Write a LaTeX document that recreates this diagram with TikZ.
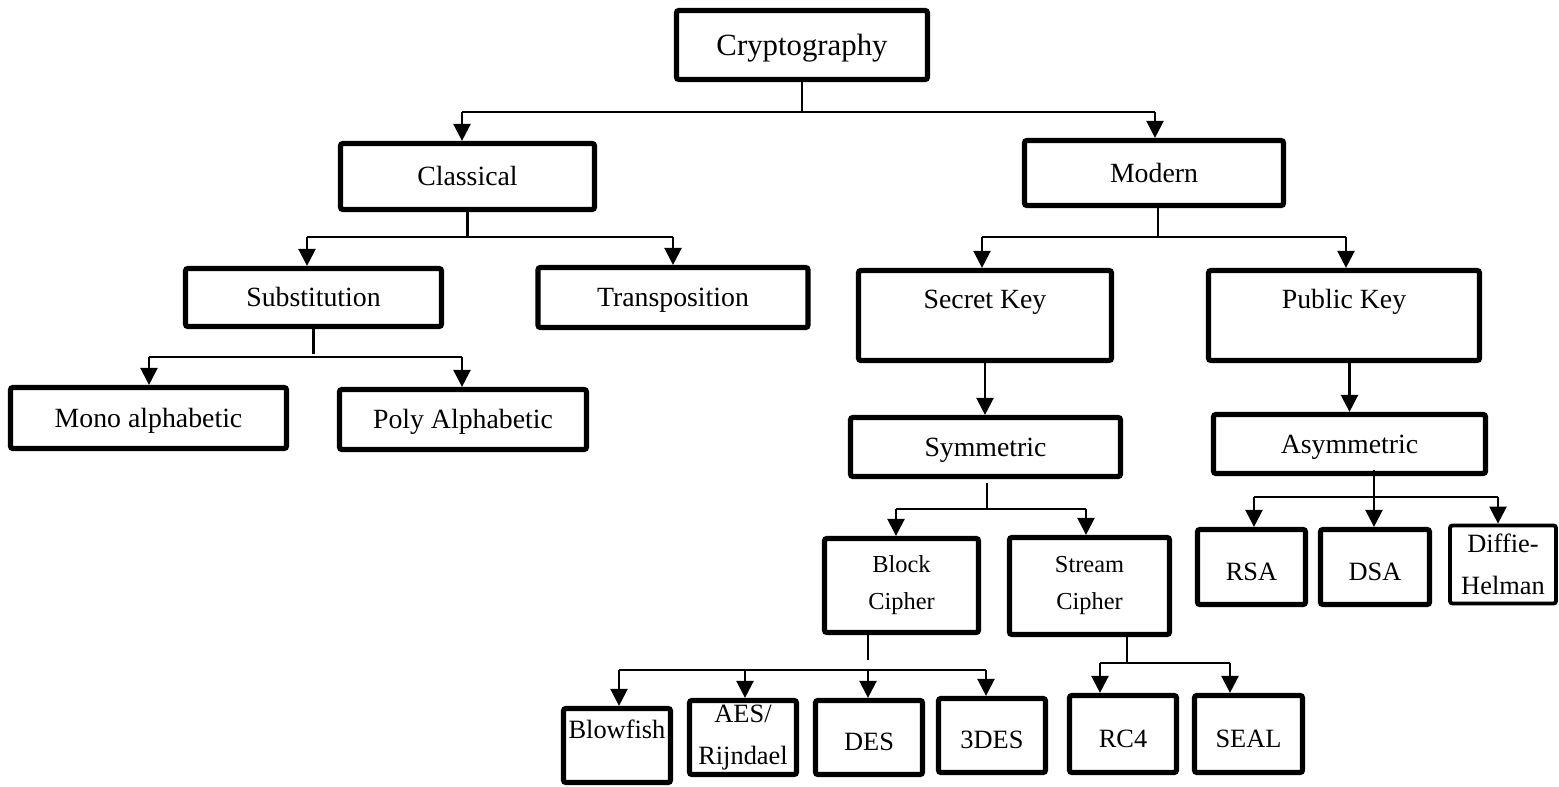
\documentclass[tikz,border=0pt]{standalone}
\usepackage{fontspec}
\setmainfont{Liberation Serif}
\usetikzlibrary{arrows.meta}

\tikzset{
  x=0.5pt, y=-0.5pt,
  frame/.style={draw, line width=2.6pt, rounded corners=1.2pt, inner sep=0pt, align=center},
  box/.style={frame, font=\fontsize{13.9pt}{16pt}\selectfont, text height=9pt, text depth=0pt},
  topbox/.style={box, font=\fontsize{15.4pt}{18pt}\selectfont, text height=10pt},
  leaf/.style={frame, font=\fontsize{13.2pt}{16pt}\selectfont, text height=13pt, text depth=0pt},
  twoline/.style={frame, font=\fontsize{12.2pt}{18.5pt}\selectfont},
  twoleaf/.style={frame, font=\fontsize{13.2pt}{21pt}\selectfont},
  wire/.style={line width=1.2pt},
  arr/.style={wire, -{Triangle[width=8.5pt,length=8.5pt]}},
}

\begin{document}
\begin{tikzpicture}
\useasboundingbox (0,0) rectangle (1559,787);

% ---- boxes ----
\node[topbox, minimum width=125.5pt, minimum height=34.5pt] (crypto) at (802,45) {Cryptography};

\node[box, minimum width=127pt, minimum height=33pt] (classical) at (467.5,176.5) {Classical};
\node[box, minimum width=129.5pt, minimum height=32.5pt] (modern) at (1154,173) {Modern};

\node[box, minimum width=128pt, minimum height=29pt] (subst) at (313.5,297.5) {Substitution};
\node[box, minimum width=135pt, minimum height=30pt] (transp) at (673,297.5) {Transposition};

\node[box, minimum width=138pt, minimum height=30.5pt] (mono) at (148.5,418) {Mono alphabetic};
\node[box, minimum width=123.5pt, minimum height=30pt] (poly) at (463,419.5) {Poly Alphabetic};

\node[box, minimum width=126.5pt, minimum height=45pt, text depth=16.5pt] (secret) at (985,315.5) {Secret Key};
\node[box, minimum width=135.5pt, minimum height=45pt, text depth=16.5pt] (public) at (1344,315.5) {Public Key};

\node[box, minimum width=135pt, minimum height=29.5pt] (sym) at (985.5,447) {Symmetric};
\node[box, minimum width=136pt, minimum height=29.5pt] (asym) at (1349.5,444) {Asymmetric};

\node[twoline, minimum width=77pt, minimum height=47pt] (block) at (901.5,585.5) {Block\\Cipher};
\node[twoline, minimum width=80pt, minimum height=48.5pt] (stream) at (1089.5,586) {Stream\\Cipher};

\node[leaf, minimum width=54pt, minimum height=37.5pt] (rsa) at (1251.5,567) {RSA};
\node[leaf, minimum width=54.5pt, minimum height=37.5pt] (dsa) at (1375,567) {DSA};
\node[twoleaf, line width=1.9pt, minimum width=53pt, minimum height=39pt] (dh) at (1503,564.5) {Diffie-\\Helman};

\node[leaf, minimum width=53.5pt, minimum height=37pt, text height=10pt, text depth=17.5pt] (blowfish) at (617,745.5) {Blowfish};
\node[twoleaf, minimum width=53.5pt, minimum height=37pt] (aes) at (743,737.5) {AES/\\Rijndael};
\node[leaf, minimum width=53.5pt, minimum height=37pt] (des) at (869,737.5) {DES};
\node[leaf, minimum width=53.5pt, minimum height=37pt] (tdes) at (992,735.5) {3DES};

\node[leaf, minimum width=53.5pt, minimum height=38.5pt] (rc4) at (1123,734) {RC4};
\node[leaf, minimum width=54pt, minimum height=38.5pt] (seal) at (1248.5,734) {SEAL};

% ---- branch points ----
\coordinate (c0) at (802,112);
\coordinate (c0l) at (462,112);
\coordinate (c0r) at (1155,112);

\coordinate (c1) at (467.5,236);
\coordinate (c1l) at (307,237);
\coordinate (c1r) at (673,237);

\coordinate (c2) at (313.5,354);
\coordinate (c2l) at (149,357);
\coordinate (c2r) at (462,357);

\coordinate (c3) at (1158,237);
\coordinate (c3l) at (982,237);
\coordinate (c3r) at (1346,237);

\coordinate (c4) at (987,509);
\coordinate (c4l) at (896,509);
\coordinate (c4r) at (1086,509);

\coordinate (c5) at (1374,497);
\coordinate (c5l) at (1254,497);
\coordinate (c5r) at (1498,497);

\coordinate (c6) at (868,660);
\coordinate (c6a) at (619,670);
\coordinate (c6b) at (745,670);
\coordinate (c6c) at (868,670);
\coordinate (c6d) at (986,670);

\coordinate (c7) at (1127,663);
\coordinate (c7l) at (1100,663);
\coordinate (c7r) at (1230,663);

% ---- connectors ----
\draw[wire] (crypto.south) -- (c0);
\draw[wire] (c0l) -- (c0r);
\draw[arr] (c0l) -- (c0l |- classical.north);
\draw[arr] (c0r) -- (c0r |- modern.north);

\draw[wire] (classical.south) -- (c1);
\draw[wire] (c1l) -- (c1r);
\draw[arr] (c1l) -- (c1l |- subst.north);
\draw[arr] (c1r) -- (c1r |- transp.north);

\draw[wire] (subst.south) -- (c2);
\draw[wire] (c2l) -- (c2r);
\draw[arr] (c2l) -- (c2l |- mono.north);
\draw[arr] (c2r) -- (c2r |- poly.north);

\draw[wire] (c3 |- modern.south) -- (c3);
\draw[wire] (c3l) -- (c3r);
\draw[arr] (c3l) -- (c3l |- secret.north);
\draw[arr] (c3r) -- (c3r |- public.north);

\draw[arr] (secret.south) -- (secret.south |- sym.north);
\draw[arr] (asym.north |- public.south) -- (asym.north);

\draw[wire] ([yshift=-2pt]c4 |- sym.south) -- (c4);
\draw[wire] (c4l) -- (c4r);
\draw[arr] (c4l) -- (c4l |- block.north);
\draw[arr] (c4r) -- (c4r |- stream.north);

\draw[wire] ([yshift=3pt]c5 |- asym.south) -- (c5);
\draw[wire] (c5l) -- (c5r);
\draw[arr] (c5l) -- (c5l |- rsa.north);
\draw[arr] (c5) -- (c5 |- dsa.north);
\draw[arr] (c5r) -- (c5r |- dh.north);

\draw[wire] (c6 |- block.south) -- (c6);
\draw[wire] (c6a) -- (c6d);
\draw[arr] (c6a) -- (c6a |- blowfish.north);
\draw[arr] (c6b) -- (c6b |- aes.north);
\draw[arr] (c6c) -- (c6c |- des.north);
\draw[arr] (c6d) -- (c6d |- tdes.north);

\draw[wire] (c7 |- stream.south) -- (c7);
\draw[wire] (c7l) -- (c7r);
\draw[arr] (c7l) -- (c7l |- rc4.north);
\draw[arr] (c7r) -- (c7r |- seal.north);
\end{tikzpicture}
\end{document}
